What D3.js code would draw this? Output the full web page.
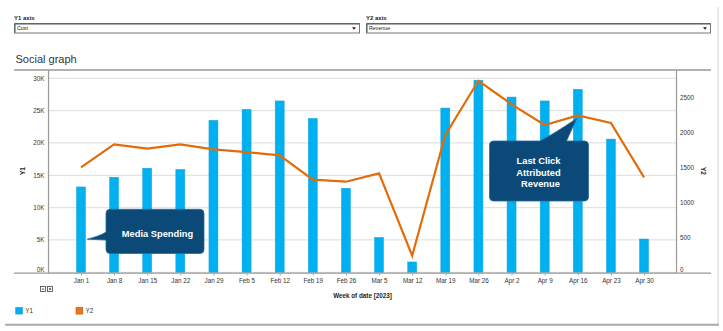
<!DOCTYPE html>
<html><head><meta charset="utf-8">
<script src="https://cdn.jsdelivr.net/npm/d3@7"></script>
<style>
html,body{margin:0;padding:0;background:#fff;}
svg{display:block;font-family:"Liberation Sans",Arial,sans-serif;}
</style></head>
<body><svg id="c" width="723" height="331"></svg>
<script>
const categories = ["Jan 1","Jan 8","Jan 15","Jan 22","Jan 29","Feb 5","Feb 12","Feb 19","Feb 26","Mar 5","Mar 12","Mar 19","Mar 26","Apr 2","Apr 9","Apr 16","Apr 23","Apr 30"];
const costValues = [13200,14700,16100,15900,23500,25200,26500,23800,13000,5400,1600,25400,29700,27100,26500,28300,20600,5150];
const revenueValues = [1504,1834,1771,1834,1762,1722,1676,1327,1298,1418,238,1967,2745,2407,2110,2249,2139,1361];
const y1Ticks = [0,5000,10000,15000,20000,25000,30000];
const y2Ticks = [0,500,1000,1500,2000,2500];
const y1Max = 30000, y2Max = 2780;

const svg = d3.select("#c");
const L = 48.5, R = 676.5, T = 70, B = 272.3, TOP = 78.3;
const x = d3.scalePoint().domain(categories).range([L, R]).padding(0.98);
const y1 = d3.scaleLinear().domain([0, y1Max]).range([B, TOP]);
const y2 = d3.scaleLinear().domain([0, y2Max]).range([B, TOP]);

// dropdown controls
function dropdown(x0, x1, label, value) {
  svg.append("text").attr("x", x0).attr("y", 20).attr("font-size", 6).attr("font-weight", "bold").attr("fill", "#222").text(label);
  svg.append("rect").attr("x", x0 + 0.5).attr("y", 23.5).attr("width", x1 - x0).attr("height", 9.5)
    .attr("fill", "#fff").attr("stroke", "#777").attr("stroke-width", 1);
  svg.append("path").attr("d", `M${x0+1},32.5V24H${x1}`).attr("fill", "none").attr("stroke", "#555").attr("stroke-width", 1);
  svg.append("text").attr("x", x0 + 3).attr("y", 30.3).attr("font-size", 5.3).attr("fill", "#222").text(value);
  svg.append("path").attr("d", `M${x1-7},27.3h4l-2,2.5z`).attr("fill", "#222");
}
dropdown(14, 359, "Y1 axis", "Cost");
dropdown(366, 710, "Y2 axis", "Revenue");

// title
svg.append("text").attr("x", 15.5).attr("y", 63).attr("font-size", 11).attr("fill", "#333").text("Social graph");

// outer borders
svg.append("line").attr("x1", 718).attr("x2", 718).attr("y1", 7).attr("y2", 324).attr("stroke", "#e2e2e2").attr("stroke-width", 1.5);
svg.append("line").attr("x1", 5).attr("x2", 719).attr("y1", 324.8).attr("y2", 324.8).attr("stroke", "#aaa").attr("stroke-width", 2);

// gridlines
svg.append("g").selectAll("line").data(y1Ticks).join("line")
  .attr("x1", L).attr("x2", R).attr("y1", d => y1(d)).attr("y2", d => y1(d))
  .attr("stroke", "#e3e3e3").attr("stroke-width", 1.2);

// frame
svg.append("line").attr("x1", 14).attr("x2", 711).attr("y1", T).attr("y2", T).attr("stroke", "#999").attr("stroke-width", 1.3);
svg.append("line").attr("x1", L).attr("x2", L).attr("y1", T).attr("y2", B + 0.8).attr("stroke", "#999").attr("stroke-width", 1.2);
svg.append("line").attr("x1", R).attr("x2", R).attr("y1", T).attr("y2", B + 0.8).attr("stroke", "#999").attr("stroke-width", 1.2);

// bars
svg.append("g").selectAll("rect").data(costValues).join("rect")
  .attr("x", (d, i) => x(categories[i]) - 4.5).attr("width", 9)
  .attr("y", d => y1(d)).attr("height", d => B - y1(d))
  .attr("fill", "#00b0f0").attr("stroke", "#19a6dc").attr("stroke-width", 0.5);

// bottom axis line
svg.append("line").attr("x1", 14).attr("x2", 711).attr("y1", B + 0.8).attr("y2", B + 0.8).attr("stroke", "#999").attr("stroke-width", 1.3);

// x axis
const xAxis = svg.append("g").attr("transform", `translate(0,${B + 0.8})`)
  .call(d3.axisBottom(x).tickSize(2.5).tickPadding(3));
xAxis.select(".domain").remove();
xAxis.selectAll("line").attr("stroke", "#aaa");
xAxis.selectAll("text").attr("font-size", 6.3).attr("fill", "#333").attr("font-family", "Liberation Sans, Arial, sans-serif");

// left axis
const yAxisL = svg.append("g").attr("transform", `translate(${L - 4},0)`)
  .call(d3.axisLeft(y1).tickValues(y1Ticks).tickSize(0).tickPadding(0).tickFormat(d => (d / 1000) + "K"));
yAxisL.select(".domain").remove();
yAxisL.selectAll("text").attr("font-size", 6.3).attr("fill", "#333").attr("font-family", "Liberation Sans, Arial, sans-serif")
  .attr("dy", d => d === 0 ? "-0.2em" : "0.32em");

// right axis
const yAxisR = svg.append("g").attr("transform", `translate(${R + 3.5},0)`)
  .call(d3.axisRight(y2).tickValues(y2Ticks).tickSize(0).tickPadding(0).tickFormat(d3.format("d")));
yAxisR.select(".domain").remove();
yAxisR.selectAll("text").attr("font-size", 6.3).attr("fill", "#333").attr("font-family", "Liberation Sans, Arial, sans-serif")
  .attr("dy", d => d === 0 ? "-0.2em" : "0.32em");

// axis titles
svg.append("text").attr("transform", "translate(24.5,171) rotate(-90)").attr("text-anchor", "middle")
  .attr("font-size", 6.5).attr("font-weight", "bold").attr("fill", "#222").text("Y1");
svg.append("text").attr("transform", "translate(701,171) rotate(90)").attr("text-anchor", "middle")
  .attr("font-size", 6.5).attr("font-weight", "bold").attr("fill", "#222").text("Y2");
svg.append("text").attr("x", (L + R) / 2).attr("y", 298).attr("text-anchor", "middle")
  .attr("font-size", 6.3).attr("font-weight", "bold").attr("fill", "#222").text("Week of date [2023]");

// line
svg.append("path").datum(revenueValues)
  .attr("d", d3.line().x((d, i) => x(categories[i])).y(d => y2(d)))
  .attr("fill", "none").attr("stroke", "#e36c0a").attr("stroke-width", 2.2).attr("stroke-linejoin", "miter");

// collapse / expand icons
[40.5, 47.5].forEach((ix, k) => {
  svg.append("rect").attr("x", ix).attr("y", 286.5).attr("width", 5).attr("height", 5).attr("fill", "#fff").attr("stroke", "#444").attr("stroke-width", 0.8);
  svg.append("line").attr("x1", ix + 1.3).attr("x2", ix + 3.7).attr("y1", 289).attr("y2", 289).attr("stroke", "#333").attr("stroke-width", 0.8);
  if (k === 1) svg.append("line").attr("x1", ix + 2.5).attr("x2", ix + 2.5).attr("y1", 287.8).attr("y2", 290.2).attr("stroke", "#333").attr("stroke-width", 0.8);
});

// legend
const legend = [{name: "Y1", color: "#00b0f0", stroke: "#19a6dc", x: 15.7}, {name: "Y2", color: "#ee7418", stroke: "#c55a0a", x: 76}];
legend.forEach(l => {
  svg.append("rect").attr("x", l.x).attr("y", 307.3).attr("width", 6.8).attr("height", 6.8).attr("fill", l.color).attr("stroke", l.stroke).attr("stroke-width", 0.6);
  svg.append("text").attr("x", l.x + 9.5).attr("y", 313).attr("font-size", 6.3).attr("fill", "#333").text(l.name);
});

// callouts
function callout(x0, y0, x1, y1c, pointer, lines, cx, cy, lh) {
  const r = 4;
  let p = "";
  if (pointer.side === "left") {
    p = `M${x0+r},${y0}H${x1-r}Q${x1},${y0} ${x1},${y0+r}V${y1c-r}Q${x1},${y1c} ${x1-r},${y1c}H${x0+r}Q${x0},${y1c} ${x0},${y1c-r}` +
        `V${pointer.b}L${pointer.tx},${pointer.ty}Q${x0-6},${pointer.a+4} ${x0},${pointer.a}V${y0+r}Q${x0},${y0} ${x0+r},${y0}Z`;
  } else {
    p = `M${x0+r},${y0}H${pointer.a}Q${pointer.a+12},${y0-6} ${pointer.tx},${pointer.ty}L${pointer.b},${y0}H${x1-r}Q${x1},${y0} ${x1},${y0+r}V${y1c-r}Q${x1},${y1c} ${x1-r},${y1c}` +
        `H${x0+r}Q${x0},${y1c} ${x0},${y1c-r}V${y0+r}Q${x0},${y0} ${x0+r},${y0}Z`;
  }
  svg.append("path").attr("d", p).attr("fill", "#0b4a78").attr("stroke", "#2a6a9a").attr("stroke-width", 0.8);
  const t = svg.append("text").attr("text-anchor", "middle").attr("font-size", 9.3).attr("font-weight", "bold").attr("fill", "#fff");
  lines.forEach((ln, i) => t.append("tspan").attr("x", cx + (ln.dx || 0)).attr("y", cy + i * lh).text(ln.t));
}
callout(106, 209.3, 204, 253.5, {side: "left", a: 232, b: 240, tx: 87.3, ty: 239.2}, [{t: "Media Spending"}], 157.5, 236.6, 0);
callout(489.5, 141, 588.5, 201, {side: "top", a: 540, b: 566.5, tx: 576.7, ty: 118.5}, [{t: "Last Click"}, {t: "Attributed"}, {t: "Revenue", dx: 2}], 538.5, 164.3, 11.4);
</script></body></html>
